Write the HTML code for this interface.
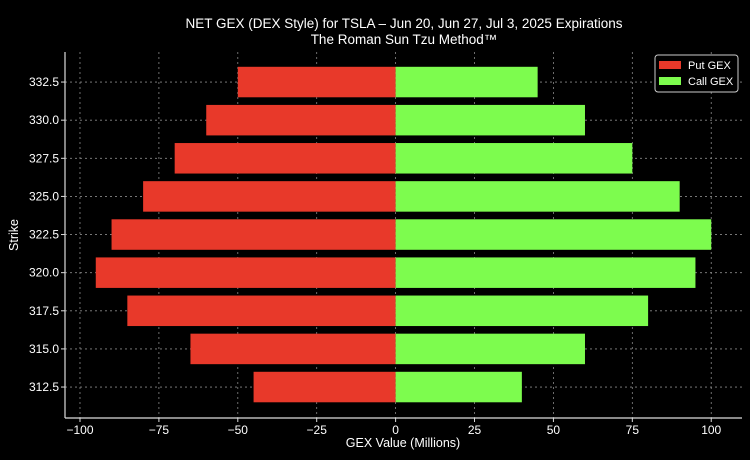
<!DOCTYPE html>
<html><head><meta charset="utf-8"><style>
html,body{margin:0;padding:0;background:#000;}
svg{display:block;font-family:"Liberation Sans","DejaVu Sans",sans-serif;}
</style></head><body>
<svg id="chart" width="750" height="460" viewBox="0 0 750 460">
<rect width="750" height="460" fill="#000"/>
<text x="404" y="28" fill="#fff" font-size="13.5" text-anchor="middle">NET GEX (DEX Style) for TSLA – Jun 20, Jun 27, Jul 3, 2025 Expirations</text>
<text x="404" y="44" fill="#fff" font-size="13.5" text-anchor="middle">The Roman Sun Tzu Method™</text>
<g id="grid"></g>
<g id="bars"></g>
<g id="axes"></g>
<text x="403" y="447" fill="#fff" font-size="12.5" text-anchor="middle">GEX Value (Millions)</text>
<text x="18" y="235" fill="#fff" font-size="12.5" text-anchor="middle" transform="rotate(-90 18 235)">Strike</text>
<g>
<rect x="655" y="55" width="83" height="37" rx="3" fill="#000" stroke="#ccc" stroke-width="1"/>
<rect x="659" y="61" width="22" height="8" fill="#e8392a"/>
<text x="688" y="69" fill="#fff" font-size="11">Put GEX</text>
<rect x="659" y="77" width="22" height="8" fill="#7dfc4e"/>
<text x="688" y="85" fill="#fff" font-size="11">Call GEX</text>
</g>
</svg>
<script>
const strikes=[332.5,330,327.5,325,322.5,320,317.5,315,312.5];
const putGex=[-50,-60,-70,-80,-90,-95,-85,-65,-45];
const callGex=[45,60,75,90,100,95,80,60,40];
const xTicks=[-100,-75,-50,-25,0,25,50,75,100];
const yTicks=[312.5,315,317.5,320,322.5,325,327.5,330,332.5];
const L=65,R=742,T=52,B=418;
const xMin=-104.75,xMax=109.75,yMin=310.47,yMax=334.47;
const xs=v=>L+(v-xMin)/(xMax-xMin)*(R-L);
const ys=v=>B-(v-yMin)/(yMax-yMin)*(B-T);
const NS="http://www.w3.org/2000/svg";
function mk(tag,attrs,parent){const e=document.createElementNS(NS,tag);for(const k in attrs)e.setAttribute(k,attrs[k]);parent.appendChild(e);return e;}
const grid=document.getElementById('grid'),bars=document.getElementById('bars'),axes=document.getElementById('axes');
xTicks.forEach(t=>{
 const g=mk('line',{x1:xs(t),x2:xs(t),y1:T,y2:B,stroke:'#888','stroke-width':0.8,'stroke-dasharray':'2,3'},grid);
 
 
 mk('line',{x1:xs(t),x2:xs(t),y1:B,y2:B+4,stroke:'#ddd'},axes);
 const tx=mk('text',{x:xs(t),y:B+16,fill:'#fff','font-size':12,'text-anchor':'middle'},axes);
 tx.textContent=(t<0?'\u2212'+(-t):String(t));
 
 
});
yTicks.forEach(t=>{
 const g=mk('line',{x1:L,x2:R,y1:ys(t),y2:ys(t),stroke:'#888','stroke-width':0.8,'stroke-dasharray':'2,3'},grid);
 
 
 mk('line',{x1:L-4,x2:L,y1:ys(t),y2:ys(t),stroke:'#ddd'},axes);
 const tx=mk('text',{x:L-6,y:ys(t)+4,fill:'#fff','font-size':12,'text-anchor':'end'},axes);
 tx.textContent=t.toFixed(1);
 
 
});
const bh=2;
strikes.forEach((s,i)=>{
 const y0=ys(s+bh/2),h=ys(s-bh/2)-y0;
 const p=mk('rect',{x:xs(putGex[i]),y:y0,width:xs(0)-xs(putGex[i]),height:h,fill:'#e8392a'},bars);
 
 
 const c=mk('rect',{x:xs(0),y:y0,width:xs(callGex[i])-xs(0),height:h,fill:'#7dfc4e'},bars);
 
 
});
const ax1=mk('line',{x1:L,x2:L,y1:T,y2:B,stroke:'#ddd','stroke-width':1.2},axes);


const ax2=mk('line',{x1:L,x2:R,y1:B,y2:B,stroke:'#ddd','stroke-width':1.2},axes);


</script>
</body></html>
